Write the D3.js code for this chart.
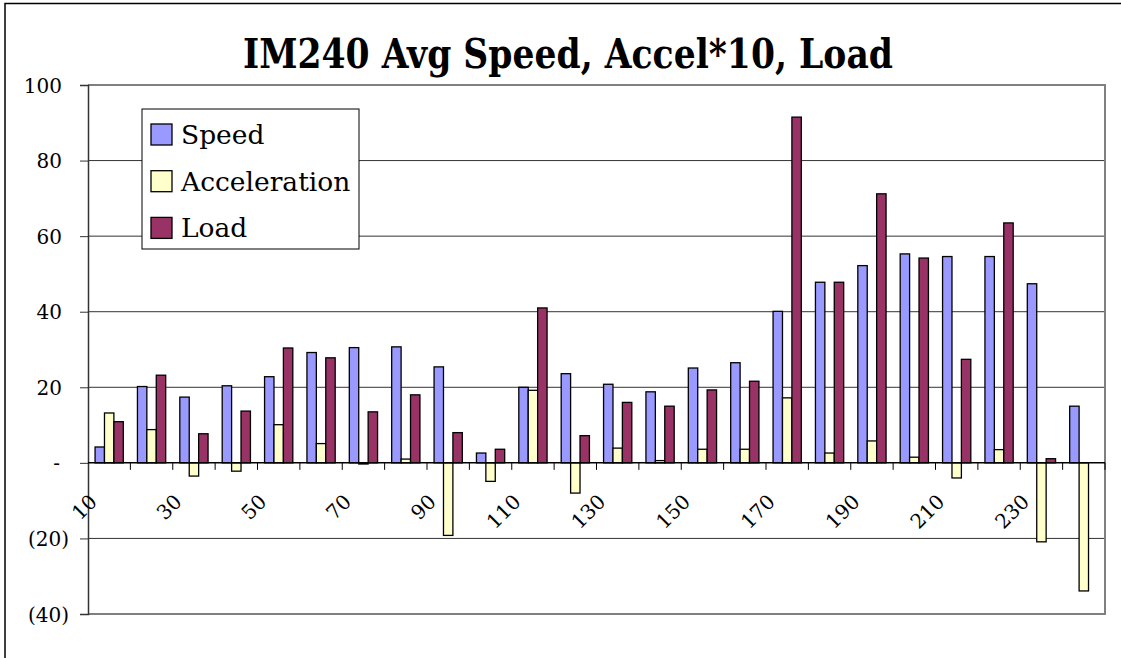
<!DOCTYPE html>
<html>
<head>
<meta charset="utf-8">
<script src="https://cdn.jsdelivr.net/npm/d3@7"></script>
<style>
  body { margin: 0; background: #fff; }
  svg { display: block; }
  svg text { font-family: "DejaVu Serif", serif; }
</style>
</head>
<body>
<svg id="chart" width="1121" height="658"></svg>
<script>
// data
let categories = [10, 20, 30, 40, 50, 60, 70, 80, 90, 100, 110, 120,
	130, 140, 150, 160, 170, 180, 190, 200, 210, 220, 230, 240];
let speed = [4.2, 20.2, 17.4, 20.4, 22.8, 29.2, 30.5, 30.7, 25.4, 2.6, 20.0, 23.6,
	20.8, 18.8, 25.1, 26.5, 40.1, 47.8, 52.2, 55.3, 54.6, 54.6, 47.4, 15.0];
let acceleration = [13.2, 8.8, -3.5, -2.2, 10.1, 5.1, -0.3, 1.0, -19.2, -4.9, 19.2, -8.0,
	3.9, 0.6, 3.6, 3.6, 17.2, 2.6, 5.8, 1.5, -4.0, 3.5, -20.9, -33.9];
let load = [10.9, 23.2, 7.7, 13.7, 30.4, 27.8, 13.5, 18.0, 8.0, 3.6, 41.0, 7.2,
	16.0, 15.0, 19.3, 21.6, 91.5, 47.8, 71.2, 54.2, 27.4, 63.5, 1.1, 0];
let seriesNames = ['Speed', 'Acceleration', 'Load'];
let seriesColors = ['#9999FF', '#FFFFCC', '#993366'];
let yTicks = [-40, -20, 0, 20, 40, 60, 80, 100];
let xLabels = [10, 30, 50, 70, 90, 110, 130, 150, 170, 190, 210, 230];

let svg = d3.select('#chart');
let plotLeft = 88, plotRight = 1105, plotTop = 85, plotBottom = 614;

let x = d3.scaleBand().domain(categories).range([plotLeft, plotRight]);
let y = d3.scaleLinear().domain([-40, 100]).range([plotBottom, plotTop]);

// outer frame
svg.append('rect')
	.attr('x', 5).attr('y', 3.5)
	.attr('width', 1200).attr('height', 700)
	.attr('fill', 'none')
	.attr('stroke', '#000')
	.attr('stroke-width', 1.5);

// title
svg.append('text')
	.attr('x', 568).attr('y', 68)
	.attr('text-anchor', 'middle')
	.attr('font-size', 41)
	.attr('font-weight', 'bold')
	.attr('textLength', 650)
	.attr('lengthAdjust', 'spacingAndGlyphs')
	.text('IM240 Avg Speed, Accel*10, Load');

// gridlines
svg.append('g')
	.selectAll('line')
	.data(yTicks.filter(d => d !== 0 && d !== 100 && d !== -40))
	.join('line')
	.attr('x1', plotLeft).attr('x2', plotRight)
	.attr('y1', d => y(d)).attr('y2', d => y(d))
	.attr('stroke', '#333')
	.attr('stroke-width', 1);

// plot area border
svg.append('path')
	.attr('d', `M${plotLeft},${plotTop}H${plotRight}V${plotBottom}H${plotLeft}`)
	.attr('fill', 'none')
	.attr('stroke', '#808080')
	.attr('stroke-width', 2);

// y axis
let fmt = d => d === 0 ? '-' : d < 0 ? '(' + (-d) + ')' : String(d);
let yAxis = svg.append('g')
	.attr('transform', `translate(${plotLeft},0)`)
	.call(d3.axisLeft(y).tickValues(yTicks).tickSize(8).tickFormat(fmt));
yAxis.attr('font-family', null);
yAxis.select('.domain').attr('stroke', '#333').attr('stroke-width', 1.5);
yAxis.selectAll('.tick line').attr('stroke', '#333');
yAxis.selectAll('.tick text')
	.attr('font-size', 20)
	.attr('fill', '#000')
	.attr('x', d => d < 0 ? -19 : d === 0 ? -28 : -26)
	.attr('dy', '0.35em');

// bars
let bw = x.bandwidth() / 4.5;
let series = [speed, acceleration, load];
series.forEach(function(values, si) {
	svg.append('g')
		.selectAll('rect')
		.data(categories.map((c, i) => ({c: c, v: values[i]})).filter(d => d.v !== 0))
		.join('rect')
		.attr('x', d => x(d.c) + 0.75 * bw + si * bw)
		.attr('y', d => y(Math.max(0, d.v)))
		.attr('width', bw)
		.attr('height', d => Math.abs(y(d.v) - y(0)))
		.attr('fill', seriesColors[si])
		.attr('stroke', '#000')
		.attr('stroke-width', 1.3);
});

// category axis at zero
let xAxis = svg.append('g');
xAxis.append('line')
	.attr('x1', plotLeft).attr('x2', plotRight)
	.attr('y1', y(0)).attr('y2', y(0))
	.attr('stroke', '#000')
	.attr('stroke-width', 1.5);
xAxis.selectAll('line.tick')
	.data(categories)
	.join('line')
	.attr('class', 'tick')
	.attr('x1', d => x(d) + x.bandwidth()).attr('x2', d => x(d) + x.bandwidth())
	.attr('y1', y(0)).attr('y2', y(0) + 7)
	.attr('stroke', '#000');
xAxis.selectAll('text')
	.data(xLabels)
	.join('text')
	.attr('transform', d => `translate(${x(d) + x.bandwidth() / 2 - 11},503) rotate(-45)`)
	.attr('text-anchor', 'end')
	.attr('font-size', 20)
	.text(d => d);

// legend
let legend = svg.append('g');
legend.append('rect')
	.attr('x', 142).attr('y', 109)
	.attr('width', 217).attr('height', 140)
	.attr('fill', '#fff')
	.attr('stroke', '#000');
let rows = legend.selectAll('g.row')
	.data(seriesNames)
	.join('g')
	.attr('class', 'row')
	.attr('transform', (d, i) => `translate(151,${124 + i * 46.7})`);
rows.append('rect')
	.attr('width', 21).attr('height', 21)
	.attr('fill', (d, i) => seriesColors[i])
	.attr('stroke', '#000')
	.attr('stroke-width', 1.3);
rows.append('text')
	.attr('x', 30).attr('y', 20)
	.attr('font-size', 26.5)
	.text(d => d);
</script>
</body>
</html>
